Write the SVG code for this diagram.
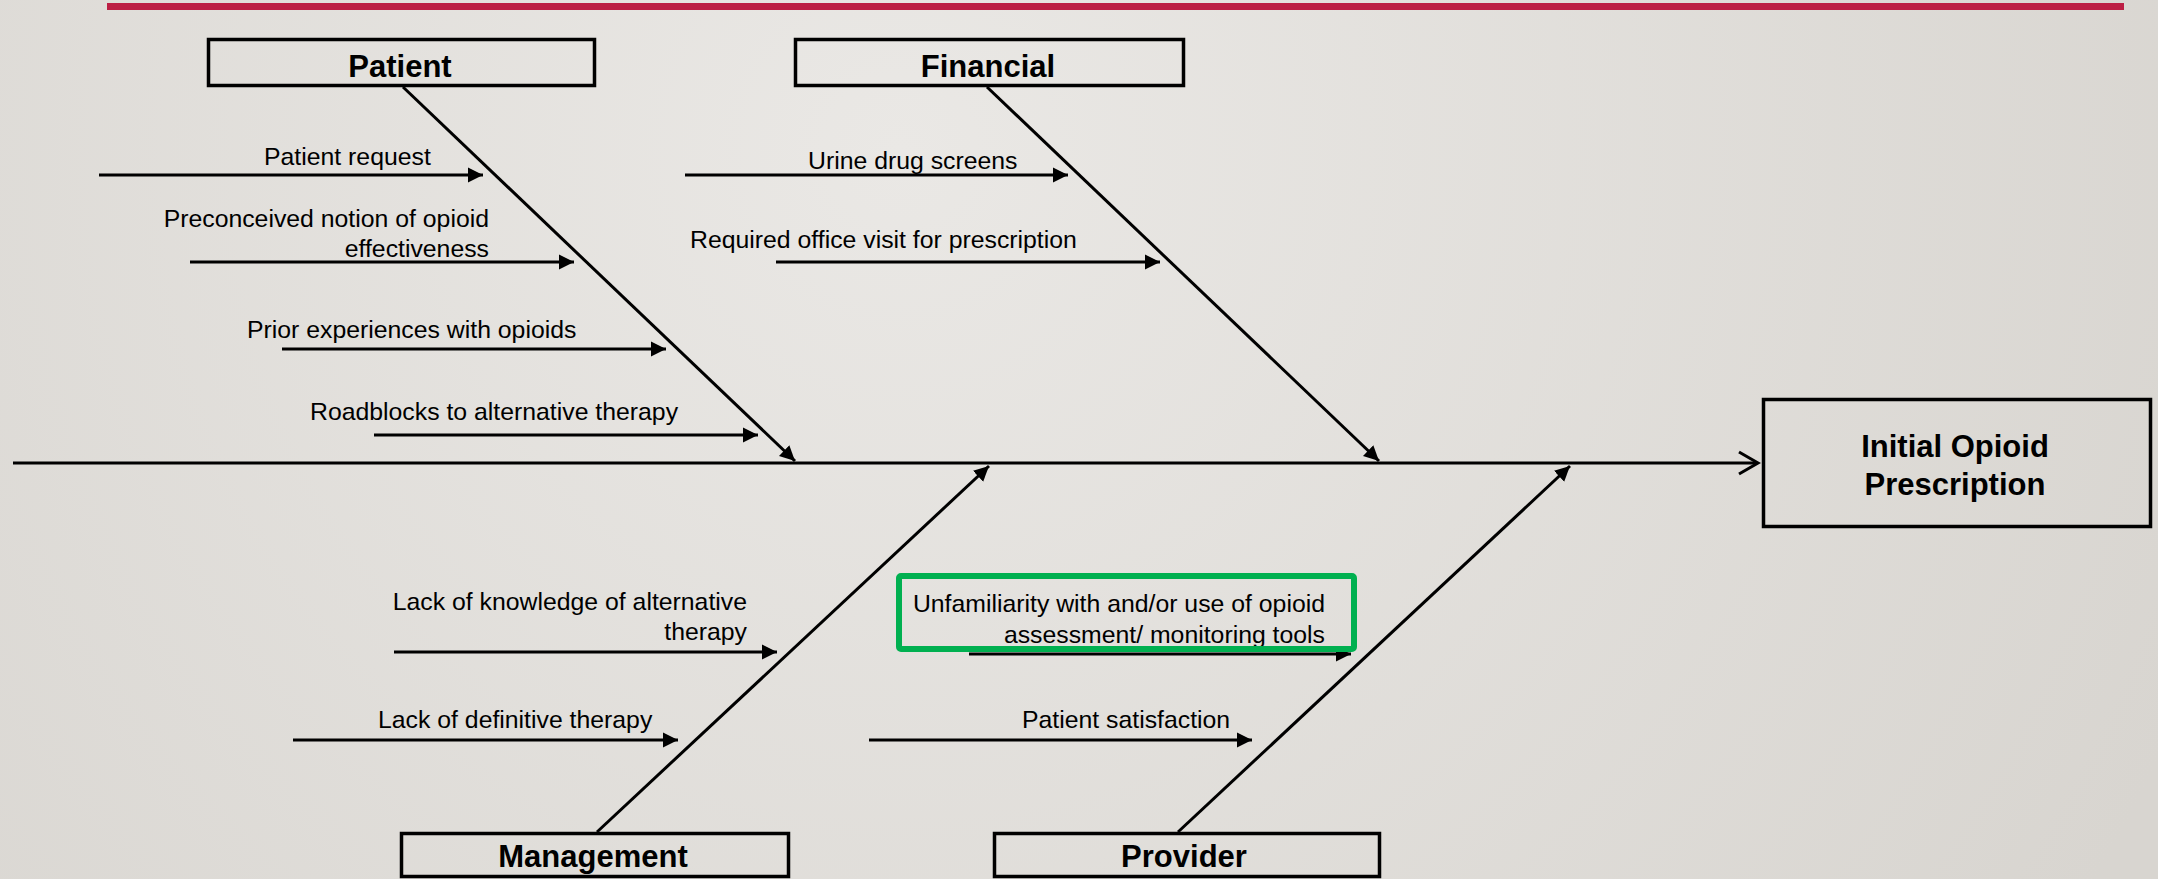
<svg xmlns="http://www.w3.org/2000/svg" width="2158" height="879" viewBox="0 0 2158 879">
<defs>
<radialGradient id="bg" cx="900" cy="150" r="1400" gradientUnits="userSpaceOnUse">
<stop offset="0" stop-color="#EAE8E5"/>
<stop offset="1" stop-color="#D8D5D0"/>
</radialGradient>
<marker id="ah" markerUnits="userSpaceOnUse" markerWidth="16" markerHeight="16" viewBox="0 0 16 16" refX="15" refY="8" orient="auto">
<path d="M0,0.5 L15,8 L0,15.5 z" fill="#000"/>
</marker>
</defs>
<style>
.box{fill:none;stroke:#000;stroke-width:3.5}
.title{font-family:"Liberation Sans",Arial,sans-serif;font-weight:bold;font-size:31px;fill:#000;text-anchor:middle}
.lbl{font-family:"Liberation Sans",Arial,sans-serif;font-size:24.8px;fill:#000}
.end{text-anchor:end}
.ln{stroke:#000;stroke-width:3;fill:none}
.arr{stroke:#000;stroke-width:3;fill:none;marker-end:url(#ah)}
</style>
<rect x="0" y="0" width="2158" height="879" fill="url(#bg)"/>
<line x1="107" y1="6.5" x2="2124" y2="6.5" stroke="#BC1F44" stroke-width="7"/>

<g id="connectors">
<line class="ln" x1="13" y1="463" x2="1757" y2="463"/>
<polyline class="ln" points="1739,452 1758,463 1739,474"/>
<line class="arr" x1="403" y1="87" x2="795" y2="461"/>
<line class="arr" x1="987" y1="87" x2="1379" y2="461"/>
<line class="arr" x1="597" y1="832" x2="989" y2="466"/>
<line class="arr" x1="1178" y1="832" x2="1570" y2="466"/>
<line class="arr" x1="99" y1="175" x2="483" y2="175"/>
<line class="arr" x1="190" y1="262" x2="574" y2="262"/>
<line class="arr" x1="282" y1="349" x2="666" y2="349"/>
<line class="arr" x1="374" y1="435" x2="758" y2="435"/>
<line class="arr" x1="685" y1="175" x2="1068" y2="175"/>
<line class="arr" x1="776" y1="262" x2="1160" y2="262"/>
<line class="arr" x1="394" y1="652" x2="777" y2="652"/>
<line class="arr" x1="293" y1="740" x2="678" y2="740"/>
<line class="arr" x1="969" y1="654" x2="1351" y2="654"/>
<line class="arr" x1="869" y1="740" x2="1252" y2="740"/>
</g>

<g id="patient">
<rect class="box" x="208.5" y="39.5" width="386" height="46"/>
<text class="title" x="400" y="77">Patient</text>
</g>
<g id="financial">
<rect class="box" x="795.5" y="39.5" width="388" height="46"/>
<text class="title" x="988" y="77">Financial</text>
</g>
<g id="management">
<rect class="box" x="401.5" y="833.5" width="387" height="43"/>
<text class="title" x="593" y="867">Management</text>
</g>
<g id="provider">
<rect class="box" x="994.5" y="833.5" width="385" height="43"/>
<text class="title" x="1184" y="867">Provider</text>
</g>
<g id="outcome">
<rect class="box" x="1763.5" y="399.5" width="387" height="127"/>
<text class="title" x="1955" y="457">Initial Opioid</text>
<text class="title" x="1955" y="495">Prescription</text>
</g>

<g id="cause-patient-request"><text class="lbl" x="264" y="165">Patient request</text></g>
<g id="cause-preconceived"><text class="lbl end" x="489" y="227">Preconceived notion of opioid</text><text class="lbl end" x="489" y="257">effectiveness</text></g>
<g id="cause-prior"><text class="lbl" x="247" y="338">Prior experiences with opioids</text></g>
<g id="cause-roadblocks"><text class="lbl" x="310" y="420">Roadblocks to alternative therapy</text></g>
<g id="cause-urine"><text class="lbl" x="808" y="169">Urine drug screens</text></g>
<g id="cause-office"><text class="lbl" x="690" y="248">Required office visit for prescription</text></g>
<g id="cause-knowledge"><text class="lbl end" x="747" y="610">Lack of knowledge of alternative</text><text class="lbl end" x="747" y="640">therapy</text></g>
<g id="cause-definitive"><text class="lbl" x="378" y="728">Lack of definitive therapy</text></g>
<g id="cause-unfamiliarity">
<text class="lbl end" x="1325" y="612">Unfamiliarity with and/or use of opioid</text>
<text class="lbl end" x="1325" y="643">assessment/ monitoring tools</text>
<rect x="899" y="576" width="455" height="73" rx="2" fill="none" stroke="#00B050" stroke-width="6"/>
</g>
<g id="cause-satisfaction"><text class="lbl" x="1022" y="728">Patient satisfaction</text></g>
</svg>
